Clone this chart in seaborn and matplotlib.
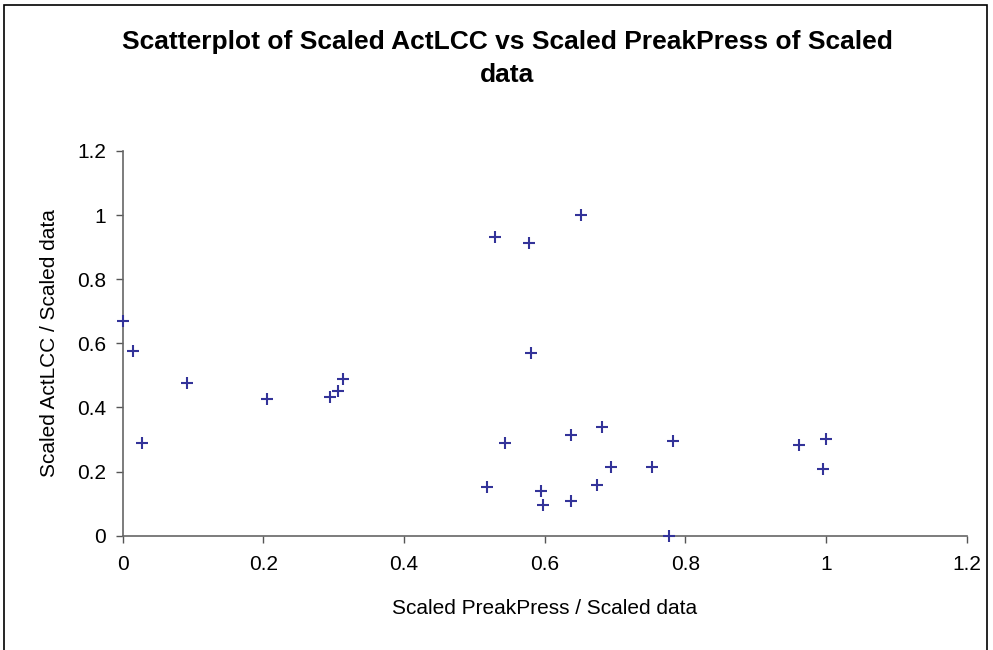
import matplotlib
matplotlib.use("Agg")
import matplotlib.pyplot as plt
import seaborn as sns
import pandas as pd
from matplotlib.patches import Rectangle

# values
preak_press = [0.0, 0.014, 0.028, 0.091, 0.205, 0.295, 0.306, 0.313,
               0.529, 0.577, 0.651, 0.580, 0.518, 0.543, 0.594, 0.597,
               0.637, 0.637, 0.674, 0.682, 0.694, 0.753, 0.776, 0.782,
               0.961, 1.0, 0.995]
act_lcc = [0.670, 0.575, 0.288, 0.475, 0.426, 0.432, 0.452, 0.490,
           0.932, 0.913, 1.0, 0.571, 0.153, 0.289, 0.139, 0.096,
           0.314, 0.108, 0.158, 0.340, 0.215, 0.215, 0.0, 0.295,
           0.283, 0.301, 0.208]
x_ticks = [0, 0.2, 0.4, 0.6, 0.8, 1, 1.2]
y_ticks = [0, 0.2, 0.4, 0.6, 0.8, 1, 1.2]
title_lines = ["Scatterplot of Scaled ActLCC vs Scaled PreakPress of Scaled", "data"]

df = pd.DataFrame({"PreakPress": preak_press, "ActLCC": act_lcc})

sns.set_style("white")
plt.rcParams["font.family"] = ["Liberation Sans", "DejaVu Sans"]

fig = plt.figure(figsize=(9.93, 6.5), dpi=100)
ax = fig.add_axes([0.1236, 0.1758, 0.85, 0.5919])

sns.scatterplot(data=df, x="PreakPress", y="ActLCC", marker="+", s=78,
                color="#333399", linewidth=1.5, clip_on=False, zorder=3, ax=ax)

ax.set_xlim(0, 1.2)
ax.set_ylim(0, 1.2)
ax.set_xticks(x_ticks)
ax.set_yticks(y_ticks)
ax.set_xticklabels([f"{t:g}" for t in x_ticks], fontsize=15, color="black")
ax.set_yticklabels([f"{t:g}" for t in y_ticks], fontsize=15, color="black")
ax.tick_params(axis="both", direction="out", length=5, width=1, color="#555555",
               bottom=True, left=True)
ax.tick_params(axis="x", pad=9)
ax.tick_params(axis="y", pad=7)
for side in ["top", "right"]:
    ax.spines[side].set_visible(False)
for side in ["left", "bottom"]:
    ax.spines[side].set_color("#666666")
    ax.spines[side].set_linewidth(1.2)

ax.set_xlabel("Scaled PreakPress / Scaled data", fontsize=15, color="black", va="center")
ax.set_ylabel("Scaled ActLCC / Scaled data", fontsize=15, color="black", va="center")
ax.xaxis.set_label_coords(0.5, -0.19)
ax.yaxis.set_label_coords(-0.087, 0.5)

fig.text(0.511, 1 - 49 / 650, title_lines[0], ha="center", va="baseline",
         fontsize=19, fontweight="bold", color="black")
fig.text(0.511, 1 - 82 / 650, title_lines[1], ha="center", va="baseline",
         fontsize=19, fontweight="bold", color="black")

fig.patches.append(Rectangle((0.004, -0.01), 0.99, 1.002, transform=fig.transFigure,
                             fill=False, edgecolor="black", linewidth=1.2))

fig.savefig("out.png", dpi=100)
